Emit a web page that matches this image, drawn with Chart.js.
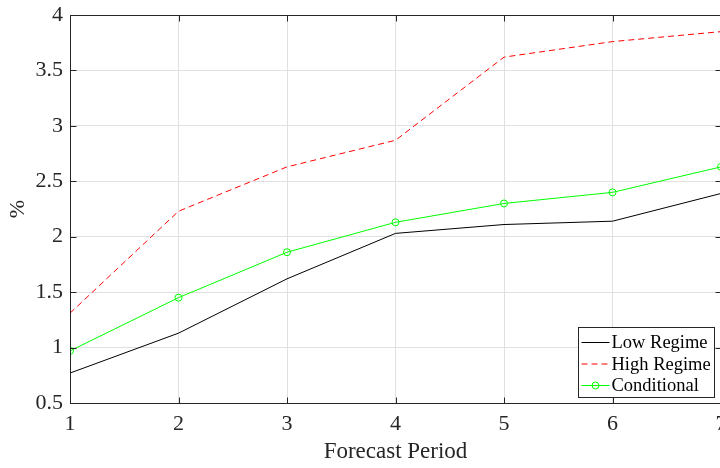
<!DOCTYPE html>
<html>
<head>
<meta charset="utf-8">
<script src="https://cdn.jsdelivr.net/npm/chart.js@4"></script>
<style>
  html, body { margin: 0; padding: 0; background: #fff; overflow: hidden; }
  #wrap { width: 742px; height: 468px; position: relative; }
</style>
</head>
<body>
<div id="wrap"><canvas id="myChart"></canvas></div>
<script>
// forecast horizon
var periods = [1, 2, 3, 4, 5, 6, 7];
var lowRegime = [0.77, 1.13, 1.62, 2.03, 2.11, 2.14, 2.39];
var highRegime = [1.31, 2.23, 2.63, 2.87, 3.62, 3.76, 3.85];
var conditional = [0.97, 1.45, 1.86, 2.13, 2.30, 2.40, 2.63];
var xTicks = [1, 2, 3, 4, 5, 6, 7];
var yTicks = [0.5, 1, 1.5, 2, 2.5, 3, 3.5, 4];

var serif = "'Liberation Serif', 'Times New Roman', serif";
var axisColor = '#262626';

function pts(ys) {
  return periods.map(function (p, i) { return {x: p, y: ys[i]}; });
}

// MATLAB style box, inward ticks and legend
var boxPlugin = {
  id: 'matlabBox',
  afterDatasetsDraw: function (chart) {
    var ctx = chart.ctx, a = chart.chartArea;
    var xs = chart.scales.x, ys = chart.scales.y;
    var L = Math.round(a.left) + 0.5, R = Math.round(a.right) + 0.5;
    var T = Math.round(a.top) + 0.5, B = Math.round(a.bottom) + 0.5;
    ctx.save();
    ctx.strokeStyle = axisColor;
    ctx.lineWidth = 1;
    ctx.strokeRect(L, T, R - L, B - T);
    ctx.beginPath();
    xTicks.forEach(function (v) {
      var px = Math.round(xs.getPixelForValue(v)) + 0.5;
      ctx.moveTo(px, B); ctx.lineTo(px, B - 6);
      ctx.moveTo(px, T); ctx.lineTo(px, T + 6);
    });
    yTicks.forEach(function (v) {
      var py = Math.round(ys.getPixelForValue(v)) + 0.5;
      ctx.moveTo(L, py); ctx.lineTo(L + 6, py);
      ctx.moveTo(R, py); ctx.lineTo(R - 6, py);
    });
    ctx.stroke();

    // legend
    var bw = 136, bh = 70;
    var bx = Math.round(a.right) - 7 - bw + 0.5;
    var by = Math.round(a.bottom) - 6 - bh + 0.5;
    ctx.fillStyle = '#fff';
    ctx.fillRect(bx, by, bw, bh);
    ctx.strokeStyle = axisColor;
    ctx.strokeRect(bx, by, bw, bh);
    ctx.font = '18.5px ' + serif;
    ctx.textBaseline = 'middle';
    chart.data.datasets.forEach(function (ds, i) {
      var cy = by + 15 + i * 21.5;
      ctx.strokeStyle = ds.borderColor;
      ctx.setLineDash(ds.borderDash || []);
      ctx.beginPath();
      ctx.moveTo(bx + 3, cy); ctx.lineTo(bx + 31, cy);
      ctx.stroke();
      ctx.setLineDash([]);
      if (ds.pointRadius > 0) {
        ctx.beginPath();
        ctx.arc(bx + 17, cy, ds.pointRadius, 0, Math.PI * 2);
        ctx.stroke();
      }
      ctx.fillStyle = '#000';
      ctx.fillText(ds.label, bx + 33, cy + 1);
    });
    ctx.restore();
  }
};

var chart = new Chart(document.getElementById('myChart'), {
  type: 'line',
  data: {
    datasets: [
      {label: 'Low Regime', data: pts(lowRegime), borderColor: '#000000',
       borderWidth: 1, pointRadius: 0, tension: 0},
      {label: 'High Regime', data: pts(highRegime), borderColor: '#ff0000',
       borderWidth: 1, borderDash: [6, 4], pointRadius: 0, tension: 0},
      {label: 'Conditional', data: pts(conditional), borderColor: '#00ff00',
       backgroundColor: 'rgba(0,0,0,0)', borderWidth: 1, pointRadius: 3.5,
       pointBorderWidth: 1, pointBackgroundColor: 'rgba(0,0,0,0)', tension: 0}
    ]
  },
  plugins: [boxPlugin],
  options: {
    responsive: true,
    maintainAspectRatio: false,
    animation: false,
    layout: {padding: {top: 15, right: 21, left: 0, bottom: 0}},
    plugins: {legend: {display: false}, tooltip: {enabled: false}},
    scales: {
      x: {
        type: 'linear', min: 1, max: 7,
        afterFit: function (s) { s.height = 65; },
        afterBuildTicks: function (s) { s.ticks = xTicks.map(function (v) { return {value: v}; }); },
        grid: {color: '#e0e0e0', drawTicks: false},
        border: {display: false},
        ticks: {color: axisColor, padding: 8, font: {family: serif, size: 22},
                maxRotation: 0, callback: function (v) { return String(v); }},
        title: {display: true, text: 'Forecast Period', color: axisColor,
                font: {family: serif, size: 23}, padding: {top: 4, bottom: 2}}
      },
      y: {
        min: 0.5, max: 4,
        afterFit: function (s) { s.width = 70; s.paddingTop = 0; s.paddingBottom = 0; },
        afterBuildTicks: function (s) { s.ticks = yTicks.map(function (v) { return {value: v}; }); },
        grid: {color: '#e0e0e0', drawTicks: false},
        border: {display: false},
        ticks: {color: axisColor, padding: 7, font: {family: serif, size: 22},
                callback: function (v) { return String(v); }},
        title: {display: true, text: '%', color: axisColor,
                font: {family: serif, size: 22}, padding: {top: 5, bottom: 4}}
      }
    }
  }
});
</script>
</body>
</html>
